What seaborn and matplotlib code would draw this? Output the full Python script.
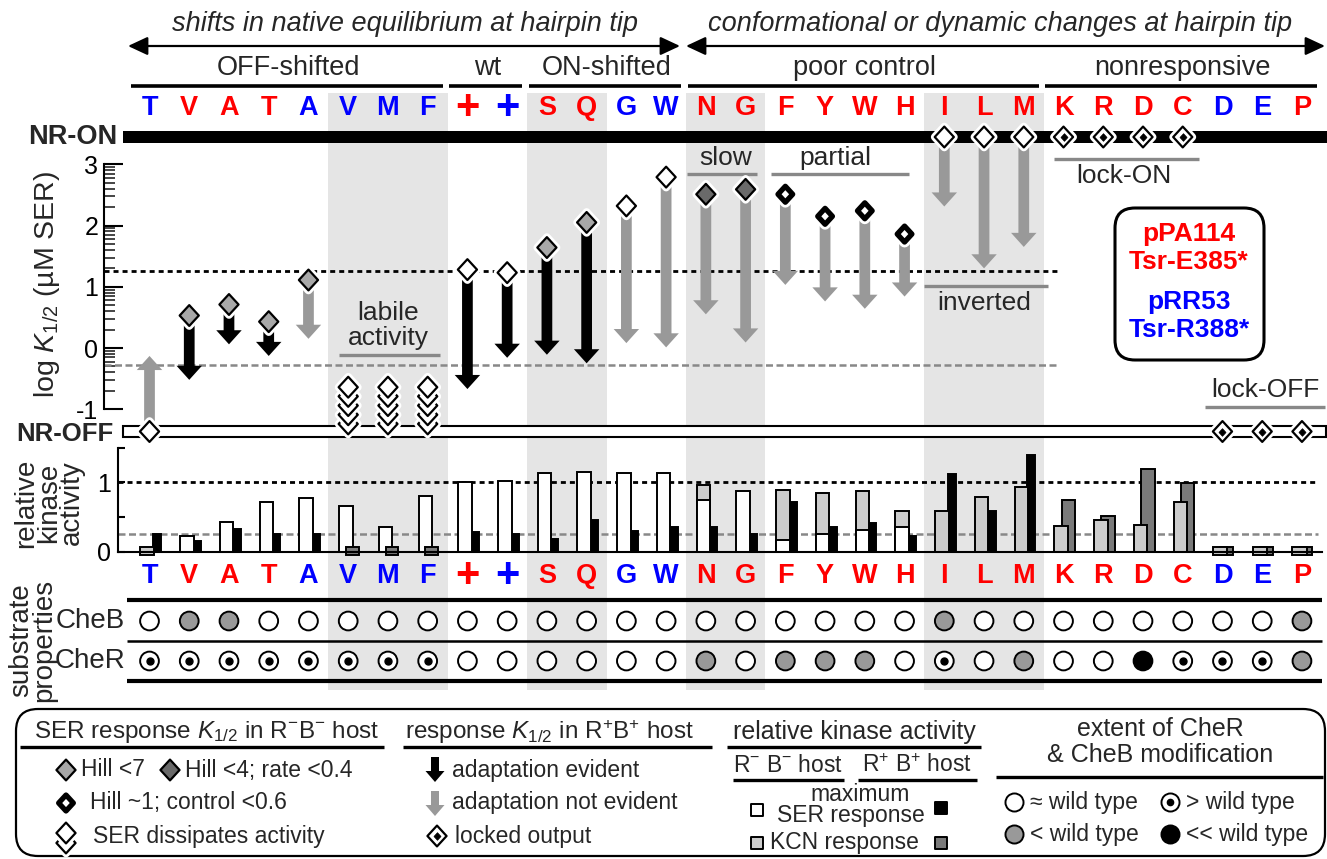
import numpy as np
import pandas as pd
import matplotlib
matplotlib.use("Agg")
import matplotlib.pyplot as plt
import matplotlib.patheffects as pe
from matplotlib.path import Path
from matplotlib.patches import Rectangle, FancyBboxPatch
import seaborn as sns

# ---------------------------------------------------------------- data
residues = ["T", "V", "A", "T", "A", "V", "M", "F", "+", "+", "S", "Q", "G", "W",
            "N", "G", "F", "Y", "W", "H", "I", "L", "M", "K", "R", "D", "C", "D", "E", "P"]
plasmids = ["pRR53", "pPA114", "pPA114", "pPA114", "pRR53", "pRR53", "pRR53", "pRR53",
            "pPA114", "pRR53", "pPA114", "pPA114", "pRR53", "pRR53",
            "pPA114", "pPA114", "pPA114", "pPA114", "pPA114", "pPA114",
            "pPA114", "pPA114", "pPA114", "pPA114", "pPA114", "pPA114", "pPA114",
            "pRR53", "pRR53", "pPA114"]
group_names = ["OFF-shifted", "wt", "ON-shifted", "poor control", "nonresponsive"]
group_first = [0, 8, 10, 14, 23]
group_last = [7, 9, 13, 22, 29]
shade_first = [5, 10, 14, 20]
shade_last = [7, 11, 15, 22]

# SER response K1/2 in R-B- host (log uM); "ON"/"OFF" = non-responsive locked states
k_half_RmBm = ["OFF", 0.53, 0.71, 0.43, 1.11, -0.64, -0.64, -0.64, 1.28, 1.23,
               1.64, 2.05, 2.32, 2.79, 2.51, 2.59, 2.51, 2.15, 2.24, 1.86,
               "ON", "ON", "ON", "ON", "ON", "ON", "ON", "OFF", "OFF", "OFF"]
response_class = ["wt", "hill7", "hill7", "hill7", "hill7", "dissipates", "dissipates", "dissipates",
                  "wt", "wt", "hill7", "hill7", "wt", "wt", "hill4", "hill4",
                  "hill1", "hill1", "hill1", "hill1", "wt", "wt", "wt",
                  "locked", "locked", "locked", "locked", "locked", "locked", "locked"]
# response K1/2 in R+B+ host (arrow tips)
k_half_RpBp = [-0.13, -0.52, 0.06, -0.13, 0.15, None, None, None, -0.67, -0.16,
               -0.11, -0.25, 0.08, 0.01, 0.55, 0.09, 1.03, 0.76, 0.64, 0.84,
               2.31, 1.30, 1.65, None, None, None, None, None, None, None]
adaptation = [False, True, True, True, False, False, False, False, True, True,
              True, True, False, False, False, False, False, False, False, False,
              False, False, False, False, False, False, False, False, False, False]

# relative kinase activity (0 = no measurable activity)
ser_RmBm = [None, 0.22, 0.43, 0.71, 0.78, 0.66, 0.36, 0.80, 1.00, 1.02,
            1.14, 1.15, 1.14, 1.14, 0.74, 0.87, 0.17, 0.25, 0.31, 0.36,
            None, None, None, None, None, None, None, None, None, None]
kcn_RmBm = [0.0, None, None, None, None, None, None, None, None, None,
            None, None, None, None, 0.96, None, 0.89, 0.84, 0.88, 0.58,
            0.58, 0.79, 0.93, 0.375, 0.46, 0.39, 0.71, 0.0, 0.0, 0.0]
ser_RpBp = [0.25, 0.15, 0.32, 0.25, 0.26, None, None, None, 0.28, 0.26,
            0.19, 0.46, 0.30, 0.35, 0.36, 0.25, 0.71, 0.35, 0.42, 0.22,
            1.12, 0.59, 1.39, None, None, None, None, None, None, None]
kcn_RpBp = [None, None, None, None, None, 0.0, 0.0, 0.0, None, None,
            None, None, None, None, None, None, None, None, None, None,
            None, None, None, 0.74, 0.51, 1.19, 0.995, 0.0, 0.0, 0.0]

# substrate properties: wt = ~wild type, lt = < wt, llt = << wt, gt = > wt
cheB = ["wt", "lt", "lt", "wt", "wt", "wt", "wt", "wt", "wt", "wt",
        "wt", "wt", "wt", "wt", "wt", "wt", "wt", "wt", "wt", "wt",
        "lt", "wt", "wt", "wt", "wt", "wt", "wt", "wt", "wt", "lt"]
cheR = ["gt", "gt", "gt", "gt", "gt", "gt", "gt", "gt", "wt", "wt",
        "wt", "wt", "wt", "wt", "lt", "wt", "lt", "lt", "lt", "wt",
        "gt", "wt", "lt", "wt", "wt", "llt", "gt", "gt", "gt", "lt"]

# ---------------------------------------------------------------- style
sns.set_theme(style="white")
plt.rcParams["font.family"] = ["Liberation Sans", "DejaVu Sans"]
plt.rcParams["mathtext.fontset"] = "custom"
plt.rcParams["mathtext.rm"] = "Liberation Sans"
plt.rcParams["mathtext.it"] = "Liberation Sans:italic"
plt.rcParams["mathtext.bf"] = "Liberation Sans:bold"
plt.rcParams["axes.unicode_minus"] = False

RED, BLUE = "#ff0000", "#0000ff"
LGREY, DGREY, AGREY, BAND = "#cccccc", "#7a7a7a", "#999999", "#e5e5e5"
DIA_LG, DIA_DG = "#a8a8a8", "#6a6a6a"
CIRC = {"wt": "white", "lt": "#999999", "llt": "black", "gt": "white"}

W, H = 1327, 859
PX0, PXSTEP = 149.5, 39.74


def col(px):
    return (px - PX0) / PXSTEP


def rect(x0, x1, ytop, ybot):
    return [x0 / W, 1 - ybot / H, (x1 - x0) / W, (ybot - ytop) / H]


fig = plt.figure(figsize=(W / 100, H / 100), dpi=100)
ax_over = fig.add_axes([0, 0, 1, 1], zorder=0)
ax_px = fig.add_axes([0, 0, 1, 1], zorder=0.5)
Y0PX, YPU = 348.0, 61.25
ylo, yhi = -1.62, 3.7
ax_main = fig.add_axes(rect(104, W, Y0PX - YPU * yhi, Y0PX - YPU * ylo), zorder=2)
K0PX, KPU = 551.7, 69.4
ax_kin = fig.add_axes(rect(118, 1322, K0PX - KPU * 1.5, K0PX), zorder=2)
for a in (ax_over, ax_px, ax_main, ax_kin):
    a.patch.set_visible(False)

n = len(residues)
pos = np.arange(n)
NR_ON = (Y0PX - 137) / YPU
NR_OFF = (Y0PX - 431.5) / YPU

diamond = Path([(0, 1), (0.92, 0), (0, -1), (-0.92, 0), (0, 1)],
               [Path.MOVETO, Path.LINETO, Path.LINETO, Path.LINETO, Path.CLOSEPOLY])


def halo(lw):
    return [pe.withStroke(linewidth=lw + 4, foreground="white")]


def draw_diamond(ax, x, y, kind, z=6, scale=1.0):
    if kind in ("wt", "hill7", "hill4", "dissipates"):
        fc = {"wt": "white", "hill7": DIA_LG, "hill4": DIA_DG, "dissipates": "white"}[kind]
        ax.scatter([x], [y], marker=diamond, s=(15 * scale) ** 2, fc=fc, ec="black",
                   lw=1.6, zorder=z, clip_on=False, path_effects=halo(1.6))
    elif kind == "hill1":
        ax.scatter([x], [y], marker=diamond, s=(11.5 * scale) ** 2, fc="white", ec="black",
                   lw=3.8, zorder=z, clip_on=False, path_effects=halo(3.8))
    elif kind == "locked":
        ax.scatter([x], [y], marker=diamond, s=(15 * scale) ** 2, fc="white", ec="black",
                   lw=1.6, zorder=z, clip_on=False, path_effects=halo(1.6))
        ax.scatter([x], [y], marker=diamond, s=(5.5 * scale) ** 2, fc="black", ec="black",
                   lw=0.5, zorder=z + 0.1, clip_on=False)


# ---------------------------------------------------------------- overlay (columns x, pixel y)
for f, l in zip(shade_first, shade_last):
    ax_over.add_patch(Rectangle((f - 0.5, 93), l - f + 1, 597, fc=BAND, ec="none", zorder=0))

for i, (r, p) in enumerate(zip(residues, plasmids)):
    c = RED if p == "pPA114" else BLUE
    fs = 30 if r == "+" else 19.5
    for yy in (108, 576):
        ax_over.text(i, yy, r, color=c, fontsize=fs, fontweight="bold",
                     ha="center", va="center", zorder=3)

for name, f, l in zip(group_names, group_first, group_last):
    ax_over.text((f + l) / 2, 68, name, fontsize=19.5, ha="center", va="center")
    ax_over.plot([f - 0.46, l + 0.38], [86, 86], color="black", lw=2.6, solid_capstyle="butt")

ax_over.text(col(405), 24, "shifts in native equilibrium at hairpin tip", fontsize=19.5,
             style="italic", ha="center", va="center")
ax_over.text(col(1000), 24, "conformational or dynamic changes at hairpin tip", fontsize=19.5,
             style="italic", ha="center", va="center")
for x0, x1 in ((col(128), col(680)), (col(686), col(1325))):
    ax_over.annotate("", xy=(x1, 46), xytext=(x0, 46),
                     arrowprops=dict(arrowstyle="<|-|>,head_length=0.6,head_width=0.28",
                                     mutation_scale=20, lw=1.6, color="black",
                                     shrinkA=0, shrinkB=0))

# annotation labels inside the main panel
GL = dict(color="#888888", lw=2.4, solid_capstyle="butt")
ax_over.text(6, 313, "labile", fontsize=19, ha="center", va="center")
ax_over.text(6, 338, "activity", fontsize=19, ha="center", va="center")
ax_over.plot([4.77, 7.31], [355, 355], **GL)
ax_over.text(14.5, 158, "slow", fontsize=19, ha="center", va="center")
ax_over.plot([13.52, 15.28], [174, 174], **GL)
ax_over.text(17.25, 158, "partial", fontsize=19, ha="center", va="center")
ax_over.plot([15.64, 19.11], [174, 174], **GL)
ax_over.text(21, 303, "inverted", fontsize=19, ha="center", va="center")
ax_over.plot([19.49, 22.61], [286, 286], **GL)
ax_over.text(24.52, 176, "lock-ON", fontsize=19, ha="center", va="center")
ax_over.plot([22.76, 26.41], [159, 159], **GL)
ax_over.text(28.07, 390, "lock-OFF", fontsize=19, ha="center", va="center")
ax_over.plot([26.56, 29.58], [407, 407], **GL)

# substrate properties
for yy, lw in ((600, 3.0), (641, 1.8), (681, 3.0)):
    ax_over.plot([col(127), col(1322)], [yy, yy], color="black", lw=lw, solid_capstyle="butt")
sub = pd.DataFrame({"x": np.concatenate([pos, pos]),
                    "y": [621] * n + [661] * n,
                    "state": cheB + cheR})
sns.scatterplot(data=sub, x="x", y="y", hue="state", palette=CIRC, s=13.5 ** 2,
                edgecolor="black", linewidth=1.4, legend=False, ax=ax_over, zorder=4)
dots = sub[sub["state"] == "gt"]
ax_over.scatter(dots["x"], dots["y"], s=5 ** 2, color="black", zorder=5)
ax_over.text(col(125), 621, "CheB", fontsize=20, ha="right", va="center")
ax_over.text(col(125), 661, "CheR", fontsize=20, ha="right", va="center")

ax_over.set_xlim(col(0), col(W))
ax_over.set_ylim(H, 0)
ax_over.axis("off")

# ---------------------------------------------------------------- pixel overlay: labels, legend
ax_px.text(117, 137, "NR-ON", fontsize=19.5, fontweight="bold", ha="right", va="center")
ax_px.text(113, 434, "NR-OFF", fontsize=18.5, fontweight="bold", ha="right", va="center")
ax_px.text(47, 284, r"log $\mathit{K}_{\mathit{1/2}}$ (µM SER)", fontsize=20.5,
           rotation=90, ha="center", va="center")
ax_px.text(49, 503, "relative\nkinase\nactivity", fontsize=20, rotation=90,
           ha="center", va="center", linespacing=0.85)
ax_px.text(33, 640, "substrate\nproperties", fontsize=20, rotation=90,
           ha="center", va="center", linespacing=0.85)

# plasmid box
ax_px.add_patch(FancyBboxPatch((1115, 208), 149, 152, boxstyle="round,pad=0,rounding_size=20",
                               fc="white", ec="black", lw=2.2, zorder=3))
for txt, yy, cc in (("pPA114", 234, RED), ("Tsr-E385*", 262, RED),
                    ("pRR53", 302, BLUE), ("Tsr-R388*", 330, BLUE)):
    ax_px.text(1189, yy, txt, color=cc, fontsize=19, fontweight="bold",
               ha="center", va="center", zorder=4)

# legend
ax_px.add_patch(FancyBboxPatch((16, 709), 1309, 147, boxstyle="round,pad=0,rounding_size=22",
                               fc="none", ec="black", lw=1.6, clip_on=False))
LF = 16.5
HL = dict(color="black", lw=2.4, solid_capstyle="butt")
ax_px.text(34, 732, r"SER response $\mathit{K}_{\mathit{1/2}}$ in R$^{-}$B$^{-}$ host",
           fontsize=17.5, ha="left", va="center")
ax_px.plot([20, 384], [747, 747], **HL)
ax_px.text(405, 732, r"response $\mathit{K}_{\mathit{1/2}}$ in R$^{+}$B$^{+}$ host",
           fontsize=17.5, ha="left", va="center")
ax_px.plot([403, 712], [747, 747], **HL)
ax_px.text(854, 732, "relative kinase activity", fontsize=18, ha="center", va="center")
ax_px.plot([727, 981], [747, 747], **HL)
ax_px.text(788, 766, r"R$^{-}$ B$^{-}$ host", fontsize=LF, ha="center", va="center")
ax_px.plot([733, 844], [780, 780], **HL)
ax_px.text(917, 766, r"R$^{+}$ B$^{+}$ host", fontsize=LF, ha="center", va="center")
ax_px.plot([858, 977], [780, 780], **HL)
ax_px.text(860, 801, "maximum", fontsize=LF, ha="center", va="baseline")
ax_px.text(851, 822, "SER response", fontsize=LF, ha="center", va="baseline")
ax_px.text(770, 843, "KCN response", fontsize=LF, ha="left", va="center")
for (xx, yy), fc in (((757, 810), "white"), ((941, 808), "black"),
                     ((757, 843), LGREY), ((941, 843), DGREY)):
    ax_px.scatter([xx], [yy], marker="s", s=8.5 ** 2, fc=fc, ec="black", lw=1.4, zorder=5)

ax_px.text(1160, 729, "extent of CheR", fontsize=18, ha="center", va="center")
ax_px.text(1160, 755, "& CheB modification", fontsize=18, ha="center", va="center")
ax_px.plot([996, 1323], [777, 777], **HL)
for (xx, yy), state, label in (((1014, 802), "wt", "≈ wild type"), ((1170, 802), "gt", "> wild type"),
                               ((1014, 834), "lt", "< wild type"), ((1170, 834), "llt", "<< wild type")):
    ax_px.scatter([xx], [yy], s=13 ** 2, fc=CIRC[state], ec="black", lw=1.4, zorder=5)
    if state == "gt":
        ax_px.scatter([xx], [yy], s=4.5 ** 2, color="black", zorder=6)
    ax_px.text(xx + 16, yy, label, fontsize=LF, ha="left", va="center")

draw_diamond(ax_px, 66, 770, "hill7")
ax_px.text(81, 770, "Hill <7", fontsize=LF, ha="left", va="center")
draw_diamond(ax_px, 170, 770, "hill4")
ax_px.text(185, 770, "Hill <4; rate <0.4", fontsize=LF, ha="left", va="center")
draw_diamond(ax_px, 66, 803, "hill1")
ax_px.text(90, 803, "Hill ~1; control <0.6", fontsize=LF, ha="left", va="center")
for yy in (843, 833):
    draw_diamond(ax_px, 66, yy, "wt")
ax_px.text(93, 836, "SER dissipates activity", fontsize=LF, ha="left", va="center")

ax_px.arrow(435, 757, 0, 25, width=8, head_width=19, head_length=11,
            length_includes_head=True, fc="black", ec="none")
ax_px.text(452, 770, "adaptation evident", fontsize=LF, ha="left", va="center")
ax_px.arrow(435, 791, 0, 25, width=8, head_width=19, head_length=11,
            length_includes_head=True, fc=AGREY, ec="none")
ax_px.text(452, 803, "adaptation not evident", fontsize=LF, ha="left", va="center")
draw_diamond(ax_px, 437, 836, "locked")
ax_px.text(455, 836, "locked output", fontsize=LF, ha="left", va="center")

ax_px.set_xlim(0, W)
ax_px.set_ylim(H, 0)
ax_px.axis("off")

# ---------------------------------------------------------------- main panel
ax_main.set_xlim(col(104), col(W))
ax_main.set_ylim(ylo, yhi)
for s in ("top", "right", "bottom"):
    ax_main.spines[s].set_visible(False)
ax_main.spines["left"].set_bounds(-1, 3)
ax_main.spines["left"].set_linewidth(1.5)
ax_main.spines["left"].set_color("black")
ax_main.set_xticks([])
ax_main.set_yticks([-1, 0, 1, 2, 3])
ax_main.set_yticks([d + np.log10(k) for d in range(-1, 3) for k in range(2, 10)], minor=True)
ax_main.tick_params(axis="y", which="major", direction="in", length=13.5, width=1.5,
                    labelsize=18, pad=4, left=True, colors="black")
ax_main.tick_params(axis="y", which="minor", direction="in", length=8, width=1.2, left=True)

x_left = col(123)
ax_main.add_patch(Rectangle((x_left, NR_ON - 0.105), col(1340) - x_left, 0.21,
                            fc="black", ec="none", zorder=4, clip_on=False))
ax_main.add_patch(Rectangle((x_left, NR_OFF - 0.09), col(1326) - x_left, 0.18,
                            fc="white", ec="black", lw=1.5, zorder=4, clip_on=False))
ax_main.plot([col(104), 22.85], [1.25, 1.25], color="black", lw=2, ls=(0, (1.8, 1.45)), zorder=1)
ax_main.plot([col(104), 22.85], [-0.28, -0.28], color="#888888", lw=1.8, ls=(0, (2.8, 1.4)), zorder=1)

for i in range(n):
    v = k_half_RmBm[i]
    y = NR_ON if v == "ON" else (NR_OFF if v == "OFF" else v)
    tip = k_half_RpBp[i]
    if tip is not None:
        colr = "black" if adaptation[i] else AGREY
        ax_main.arrow(i, y, 0, tip - y, width=0.27, head_width=0.64, head_length=0.23,
                      length_includes_head=True, fc=colr, ec="none", zorder=3, clip_on=False)
    kind = response_class[i]
    if kind == "dissipates":
        ys = np.arange(y, NR_OFF + 0.05, -0.15)[::-1]
        for k, yy in enumerate(ys):
            draw_diamond(ax_main, i, yy, "wt", z=6 + k * 0.01)
    else:
        draw_diamond(ax_main, i, y, kind)

# ---------------------------------------------------------------- kinase panel
ax_kin.set_xlim(col(118), col(1322))
ax_kin.set_ylim(0, 1.5)
for s in ("top", "right"):
    ax_kin.spines[s].set_visible(False)
for s in ("left", "bottom"):
    ax_kin.spines[s].set_linewidth(1.5)
    ax_kin.spines[s].set_color("black")
ax_kin.set_xticks([])
ax_kin.set_yticks([0, 0.5, 1, 1.5], labels=["0", "", "1", ""])
ax_kin.tick_params(axis="y", direction="in", length=5, width=1.5, labelsize=18, pad=5,
                   left=True, colors="black")
ax_kin.plot([col(118), col(1318)], [1, 1], color="black", lw=2, ls=(0, (1.8, 1.45)), zorder=0.5)
ax_kin.plot([col(118), col(1318)], [0.25, 0.25], color="#888888", lw=1.8, ls=(0, (2.8, 1.4)), zorder=0.5)


def layer(values, offset):
    keep = [(i + offset, v) for i, v in enumerate(values) if v is not None and v > 0]
    return pd.DataFrame(keep, columns=["x", "y"])


bar_kw = dict(native_scale=True, saturation=1, edgecolor="black", linewidth=1.4,
              errorbar=None, ax=ax_kin, orient="x")
sns.barplot(data=layer(kcn_RpBp, 0.12), x="x", y="y", width=0.34, color=DGREY, **bar_kw)
sns.barplot(data=layer(ser_RpBp, 0.19), x="x", y="y", width=0.2, color="black", **bar_kw)
sns.barplot(data=layer(kcn_RmBm, -0.06), x="x", y="y", width=0.34, color=LGREY, **bar_kw)
sns.barplot(data=layer(ser_RmBm, -0.06), x="x", y="y", width=0.34, color="white", **bar_kw)
for i in range(n):
    if kcn_RpBp[i] == 0.0:
        ax_kin.bar(i + 0.1, 0.12, bottom=-0.05, width=0.32, color=DGREY, ec="black", lw=1.4,
                   clip_on=False, zorder=2)
    if kcn_RmBm[i] == 0.0:
        ax_kin.bar(i - 0.06, 0.12, bottom=-0.05, width=0.36, color=LGREY, ec="black", lw=1.4,
                   clip_on=False, zorder=2.1)
ax_kin.set_xlim(col(118), col(1322))
ax_kin.set_ylim(0, 1.5)
ax_kin.set_xlabel("")
ax_kin.set_ylabel("")
ax_main.set_xlabel("")

fig.savefig("out.png", dpi=100, facecolor="white")
